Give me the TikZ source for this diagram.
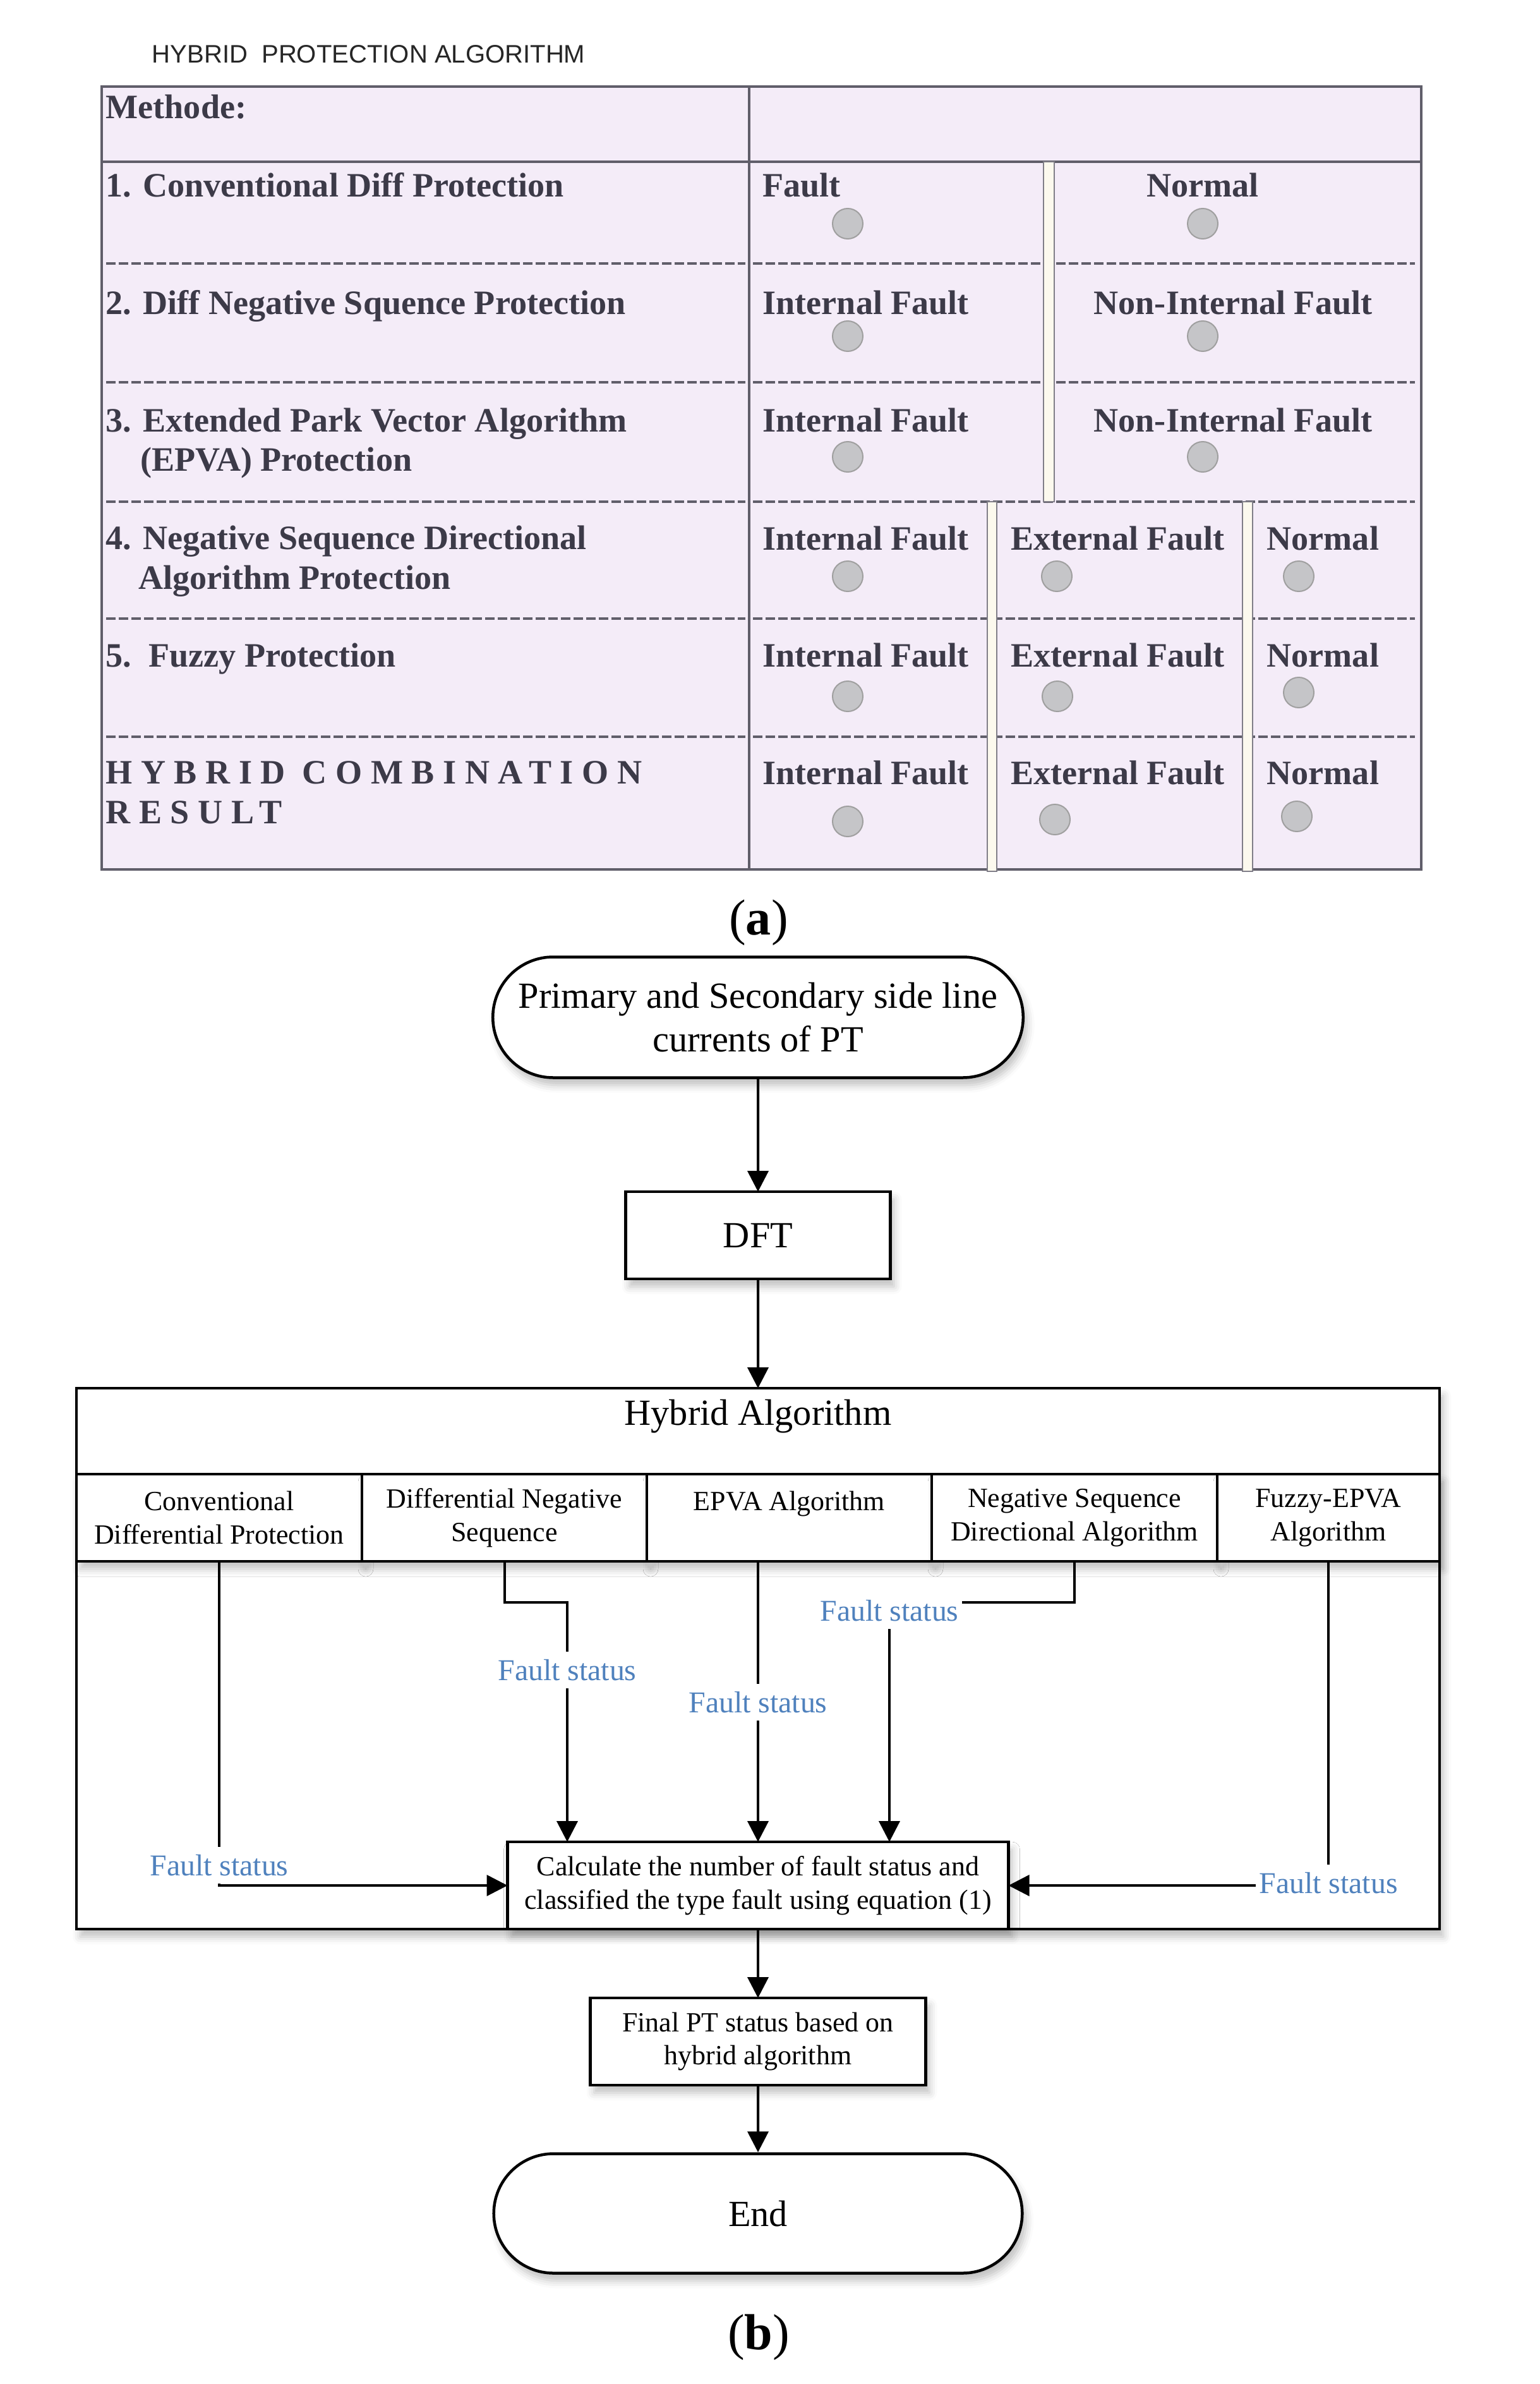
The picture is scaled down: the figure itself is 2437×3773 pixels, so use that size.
\documentclass[tikz,border=0pt]{standalone}
\usepackage{fontspec}
\setmainfont{Liberation Serif}
\newfontfamily\titlefont{Liberation Sans}
\usetikzlibrary{positioning,shapes.misc,arrows.meta,shadows.blur}

\definecolor{cellfill}{RGB}{244,236,248}
\definecolor{cellline}{RGB}{96,94,106}
\definecolor{celltext}{RGB}{60,58,72}
\definecolor{barfill}{RGB}{252,249,238}
\definecolor{lampgray}{RGB}{197,197,200}
\definecolor{statusblue}{RGB}{79,129,189}

\begin{document}
\begin{tikzpicture}[x=0.1mm, y=-0.1mm,
    cell/.style={font={\fontsize{15.4}{18}\selectfont\bfseries}, text=celltext, inner sep=0pt, anchor=base west},
    spaced/.style={font={\fontsize{15.4}{18}\selectfont\bfseries\addfontfeatures{LetterSpace=25}}},
    lamp/.style={circle, draw=gray!75, fill=lampgray, line width=0.2mm, minimum size=4.8mm, inner sep=0pt},
    bar/.style={draw=cellline!80, fill=barfill, line width=0.25mm},
    rowline/.style={draw=cellline, line width=0.4mm, dash pattern=on 1.5mm off 0.5mm},
    softshadow/.style={blur shadow={shadow xshift=0.6mm, shadow yshift=-1.2mm, shadow blur radius=1.2mm, shadow opacity=25}},
    terminal/.style={rounded rectangle, draw, line width=0.45mm, fill=white, softshadow, align=center, font={\fontsize{16.6}{19.8}\selectfont}},
    block/.style={rectangle, draw, line width=0.45mm, fill=white, softshadow, align=center, outer sep=0pt},
    small/.style={font={\fontsize{12.5}{15}\selectfont}},
    status/.style={text=statusblue, fill=white, inner xsep=0.5mm, inner ysep=1.2mm, font={\fontsize{13.6}{16}\selectfont}},
    flow/.style={line width=0.4mm, -{Triangle[length=3.3mm, width=3.3mm]}},
    sublabel/.style={font={\fontsize{22.8}{26}\selectfont}}]
\useasboundingbox (0,0) rectangle (2437,3773);

% (a) protection table
\node[font={\titlefont\fontsize{11.4}{13}\selectfont}, text=black!85, anchor=west, inner sep=0pt] (title) at (240,86) {HYBRID\ \ PROTECTION ALGORITHM};
\draw[cellline, fill=cellfill, line width=0.4mm] (161,137) rectangle (2250,1376);
\draw[cellline, line width=0.4mm] (1186,137) -- (1186,1376) (161,256) -- (2250,256);
\foreach \y in {417,605,794,979,1166}
  \draw[rowline] (168,\y) -- (1180,\y) (1192,\y) -- (2240,\y);
\draw[bar] (1652,256) rectangle (1669,794);
\draw[bar] (1563,794) rectangle (1578,1379);
\draw[bar] (1967,794) rectangle (1983,1379);

\node[cell] (m0) at (167,188) {Methode:};
\node[cell] (m1) at (167,312) {1. Conventional Diff Protection};
\node[cell] (m2) at (167,498) {2. Diff Negative Squence Protection};
\node[cell] (m3) at (167,683) {3. Extended Park Vector Algorithm};
\node[cell] (m3b) at (222,745) {(EPVA) Protection};
\node[cell] (m4) at (167,869) {4. Negative Sequence Directional};
\node[cell] (m4b) at (219,932) {Algorithm Protection};
\node[cell] (m5) at (167,1055) {5.\ \ Fuzzy Protection};
\node[cell, spaced] (m6) at (167,1240) {HYBRID COMBINATION};
\node[cell, spaced] (m6b) at (167,1303) {RESULT};

\node[cell] (f1) at (1207,312) {Fault};
\node[cell, anchor=base] (n1) at (1904,312) {Normal};
\node[cell] (f2) at (1207,498) {Internal Fault};
\node[cell, anchor=base] (n2) at (1952,498) {Non-Internal Fault};
\node[cell] (f3) at (1207,683) {Internal Fault};
\node[cell, anchor=base] (n3) at (1952,683) {Non-Internal Fault};
\foreach \r/\y in {4/870,5/1055,6/1241} {
  \node[cell] (i\r) at (1207,\y) {Internal Fault};
  \node[cell] (e\r) at (1600,\y) {External Fault};
  \node[cell] (o\r) at (2005,\y) {Normal};
}
\foreach \x/\y [count=\k] in {1342/354,1904/354,1342/532,1904/532,1342/723,1904/723,1342/912,1673/912,2056/912,1342/1102,1674/1102,2056/1096,1342/1300,1670/1297,2053/1292}
  \node[lamp] (lamp\k) at (\x,\y) {};

\node[sublabel] (capa) at (1201,1460) {(\textbf{a})};

% (b) flow chart
\node[terminal, minimum width=86.3mm, minimum height=19.1mm] (start) at (1200,1610) {Primary and Secondary side line\\currents of PT};
\node[block, minimum width=41.9mm, minimum height=13.8mm, font={\fontsize{16.6}{19.8}\selectfont}] (dft) at (1200,1955) {DFT};
\node[block, minimum width=215.8mm, minimum height=85.6mm, anchor=north west] (hybrid) at (121,2197) {};
\node[font={\fontsize{16.6}{19.8}\selectfont}] (hybtitle) at (1200,2242) {Hybrid Algorithm};
\node[block, small, minimum width=45.2mm, minimum height=13.8mm, anchor=north west] (c1) at (121,2333) {Conventional\\Differential Protection};
\node[block, small, minimum width=45.1mm, minimum height=13.8mm, right=0pt of c1] (c2) {Differential Negative\\Sequence};
\node[block, small, minimum width=45.1mm, minimum height=13.8mm, right=0pt of c2] (c3) {EPVA Algorithm\\~};
\node[block, small, minimum width=45.2mm, minimum height=13.8mm, right=0pt of c3] (c4) {Negative Sequence\\Directional Algorithm};
\node[block, small, minimum width=35.2mm, minimum height=13.8mm, right=0pt of c4] (c5) {Fuzzy-EPVA\\Algorithm};
\node[block, small, minimum width=79.3mm, minimum height=13.8mm] (calc) at (1200,2984) {Calculate the number of fault status and\\classified the type fault using equation (1)};
\node[block, small, minimum width=53.1mm, minimum height=13.8mm] (final) at (1200,3231) {Final PT status based on\\hybrid algorithm};
\node[terminal, minimum width=86mm, minimum height=18.9mm] (end) at (1200,3503) {End};
\node[sublabel] (capb) at (1201,3699) {(\textbf{b})};

\draw[flow] (start) -- (dft);
\draw[flow] (dft) -- (hybrid);
\coordinate (bend2) at (898,2536);
\coordinate (bend4) at (1408,2536);
\draw[flow] (c1.south) |- (calc.west);
\draw[flow] (c2.south) |- (bend2) -- (bend2 |- calc.north);
\draw[flow] (calc.north |- c3.south) -- (calc.north);
\draw[flow] (c4.south) |- (bend4) -- (bend4 |- calc.north);
\draw[flow] (c5.south) |- (calc.east);
\node[status] (st1) at (347,2952) {Fault status};
\node[status] (st2) at (898,2643) {Fault status};
\node[status] (st3) at (1200,2694) {Fault status};
\node[status] (st4) at (1408,2549) {Fault status};
\node[status] (st5) at (2103,2980) {Fault status};
\draw[flow] (calc) -- (final);
\draw[flow] (final) -- (end);
\end{tikzpicture}
\end{document}
